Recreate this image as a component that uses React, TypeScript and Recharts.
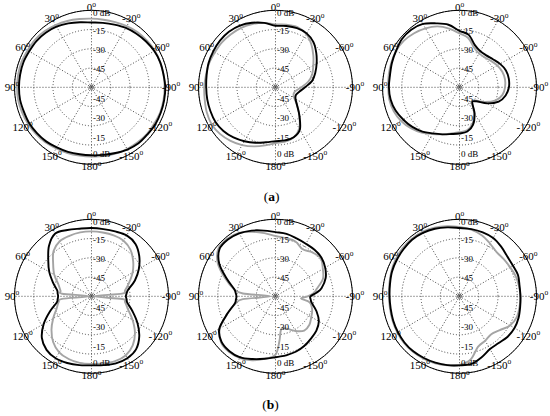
import React from "react";
import { RadarChart, Radar, PolarGrid, PolarAngleAxis, PolarRadiusAxis } from "recharts";

// sample angles in the figure's degrees: 0 = up, counter-clockwise, 190..350 stand for -170..-10
const ANG = [0, 10, 20, 30, 40, 50, 60, 70, 80, 90, 100, 110, 120, 130, 140, 150, 160, 170, 180, 190, 200, 210, 220, 230, 240, 250, 260, 270, 280, 290, 300, 310, 320, 330, 340, 350];
const ANG_B1 = [0, 10, 20, 30, 40, 50, 60, 70, 80, 85, 90, 95, 100, 110, 120, 130, 140, 150, 160, 170, 180, 190, 200, 210, 220, 230, 240, 250, 260, 265, 270, 275, 280, 290, 300, 310, 320, 330, 340, 350];
const ANG_B2 = [0, 10, 20, 30, 40, 50, 60, 70, 80, 85, 90, 95, 100, 110, 120, 130, 140, 150, 160, 170, 180, 185, 190, 200, 210, 220, 230, 240, 250, 260, 265, 270, 275, 280, 290, 300, 310, 320, 330, 340, 350];

// gain in dB, black = first curve, gray = second curve
const A1_BLACK = [-9.5, -8.5, -7, -5.5, -4.5, -4, -4, -3.5, -3.5, -3.5, -3.5, -4, -4, -4.5, -5, -6, -6.5, -7, -7, -6.5, -5.5, -4, -3, -3, -2.5, -2.5, -2.5, -2.5, -3, -3, -3.5, -4.5, -5.5, -6.5, -8, -9];
const A1_GRAY = [-6.5, -6, -5, -4, -3, -2.5, -2.5, -2, -2, -2, -2, -2.5, -3, -3.5, -4, -5, -5.5, -6, -6, -5.5, -5, -4.5, -4, -3.5, -3.5, -3, -3, -3, -3, -3, -3, -3.5, -4, -5, -6, -6.5];

const A2_BLACK = [-12, -9, -6.5, -4.5, -3.5, -3.5, -4, -4.5, -5.5, -6, -6, -6, -6, -7, -9, -11.5, -14, -16.5, -18, -18, -18.5, -22, -31, -38, -42, -43, -41, -37, -31, -27, -23, -18.5, -14, -11.5, -11, -11.5];
const A2_GRAY = [-11, -9, -7.5, -6.5, -6, -5.5, -5.5, -5, -5, -4.5, -4, -3, -2.5, -3.5, -5.5, -8, -11, -14, -16.5, -17, -18.5, -23, -31, -38, -43, -45, -44, -40, -34, -29.5, -26, -21.5, -16.5, -12, -10, -10.5];

const A3_BLACK = [-16, -10.5, -7, -3, -1.5, -1.5, -3, -4, -5, -5, -5.5, -7, -9.5, -12, -15, -18.5, -21, -23, -24, -25, -29, -36.5, -44.5, -43, -35, -27.5, -23.5, -21.5, -21, -21.5, -23.5, -26, -27.5, -27.5, -25, -18.5];
const A3_GRAY = [-18, -13.5, -9.5, -7, -5, -3.5, -3, -3.5, -4, -4.5, -4.5, -5.5, -7.5, -10.5, -14, -18, -21, -23.5, -25, -26, -30, -37, -45, -44, -37, -30, -26, -24.5, -24, -24.5, -26, -28, -29.5, -29.5, -27, -21];

const B1_BLACK = [-6.8, -6.5, -5, -3.5, -8.5, -16, -22, -28, -32.8, -33.5, -34, -33.5, -32.5, -25.5, -17, -9.5, -5.5, -4.2, -4.7, -5.5, -6.2, -5.5, -4.4, -4.2, -6, -11.4, -18.7, -26, -31.7, -32.5, -33.2, -32.5, -31, -24, -17.4, -11.4, -6.7, -5.2, -6.2, -6.8];
const B1_GRAY = [-9.4, -9.4, -9.8, -10.5, -14, -21, -26.5, -32.5, -35.5, -37, -58, -37, -34, -31, -25.5, -19.3, -13.5, -9.6, -8, -7.3, -7.3, -6.8, -6.2, -6.8, -10, -15.8, -23, -29.6, -33.4, -36, -58, -36, -33.4, -28.8, -23, -17.6, -12.7, -10, -9.5, -9.5];

const B2_BLACK = [-10, -8, -5.5, -3.4, -2.3, -3, -9.4, -19.5, -27.3, -28.8, -29.6, -29, -27.8, -20, -9.4, -5, -4.2, -5, -8, -10.6, -12.5, -13, -13.3, -14, -15.3, -17, -18.4, -21, -26, -31.4, -32.5, -32.7, -28, -23.6, -18.4, -15.3, -13.2, -12.7, -12.7, -12, -10.6];
const B2_GRAY = [-13, -10, -6.5, -3, -1.5, -2, -8, -18, -27, -34.5, -56, -34.5, -28.5, -20, -10, -4.5, -3.5, -4.5, -7, -10.5, -14.5, -25, -34, -33, -28.8, -25.2, -25.5, -27.8, -29.6, -33, -40, -35, -30, -27.5, -20.7, -17.4, -14, -15.3, -17.7, -14.5, -14];

const B3_BLACK = [-6.8, -5.5, -4, -3, -2.5, -3, -3.5, -4, -5, -5.5, -5.5, -5, -4.5, -4, -4, -4.5, -5, -5.5, -6.2, -6.5, -9.5, -12.5, -12.5, -11, -10.5, -11, -12, -12.5, -12.5, -11.5, -12, -11.5, -9.5, -7.5, -7, -6.8];
const B3_GRAY = [-6, -4.5, -3, -2, -1.8, -2, -2.5, -3.5, -4.5, -5, -5, -4.5, -4, -3.5, -3.5, -4, -4.5, -5.5, -6.5, -10, -18, -20, -21.5, -19, -14.5, -12.5, -12.5, -12.5, -13, -13.5, -14.5, -15, -15, -12.5, -9.4, -7.3];

const SPOKES = [0, 30, 60, 90, 120, 150, 180, 210, 240, 270, 300, 330];

const rows = (ang: number[], k: number[], g: number[]) => ang.map((a, i) => ({ a, k: k[i], g: g[i] }));

const CX = 91.5;
const CY = 87.3;
const R = 77;
const SERIF = "'Liberation Serif', 'Times New Roman', serif";

const PANELS = [
  { left: 0, top: 0, w: 184.2, data: rows(ANG, A1_BLACK, A1_GRAY) },
  { left: 184.2, top: 0, w: 183.3, data: rows(ANG, A2_BLACK, A2_GRAY) },
  { left: 367.5, top: 0, w: 182.5, data: rows(ANG, A3_BLACK, A3_GRAY) },
  { left: 0, top: 209.4, w: 184.2, data: rows(ANG_B1, B1_BLACK, B1_GRAY) },
  { left: 184.2, top: 209.4, w: 183.3, data: rows(ANG_B2, B2_BLACK, B2_GRAY) },
  { left: 367.5, top: 209.4, w: 182.5, data: rows(ANG, B3_BLACK, B3_GRAY) },
];

const AngleTick = (props: any) => {
  const { x, y, payload } = props;
  const v = payload.value > 180 ? payload.value - 360 : payload.value;
  return (
    <text x={x} y={y} dy="0.33em" textAnchor="middle" fontFamily={SERIF} fontSize={11} fill="#000">
      {v}
      <tspan dy={-4.5} fontSize={7.5}>o</tspan>
    </text>
  );
};

// labels sit on the upward radius axis; the lower copy is mirrored about the centre
const RingTick = (props: any) => {
  const { x, y, payload } = props;
  const v = payload.value;
  if (v <= -60) return <g />;
  const label = v === 0 ? "0 dB" : String(v);
  const r = CY - y;
  const inward = v === 0 ? 10 : 7.5;
  return (
    <g>
      <text x={x + 1.5} y={y + (v === 0 ? 2.4 : 1)} dy="0.35em" fontFamily={SERIF} fontSize={9} fill="#000">
        {label}
      </text>
      <text x={x + 1.5} y={CY + r - inward} dy="0.35em" fontFamily={SERIF} fontSize={9} fill="#000">
        {label}
      </text>
    </g>
  );
};

// closed Catmull-Rom through the points recharts computed
const SmoothLoop = (props: any) => {
  const pts = props.points || [];
  const n = pts.length;
  if (n < 3) return <g />;
  let d = `M${pts[0].x},${pts[0].y}`;
  for (let i = 0; i < n; i++) {
    const p0 = pts[(i - 1 + n) % n];
    const p1 = pts[i];
    const p2 = pts[(i + 1) % n];
    const p3 = pts[(i + 2) % n];
    const c1x = p1.x + (p2.x - p0.x) / 6;
    const c1y = p1.y + (p2.y - p0.y) / 6;
    const c2x = p2.x - (p3.x - p1.x) / 6;
    const c2y = p2.y - (p3.y - p1.y) / 6;
    d += ` C${c1x},${c1y} ${c2x},${c2y} ${p2.x},${p2.y}`;
  }
  return <path d={d + " Z"} fill="none" stroke={props.stroke} strokeWidth={props.strokeWidth} strokeLinejoin="round" />;
};

function Polar({ data, w }: { data: { a: number; k: number; g: number }[]; w: number }) {
  return (
    <RadarChart
      width={w}
      height={192}
      data={data}
      cx={CX}
      cy={CY}
      outerRadius={R}
      startAngle={90}
      endAngle={450}
      margin={{ top: 0, right: 0, bottom: 0, left: 0 }}
    >
      <PolarGrid gridType="circle" stroke="#444" strokeDasharray="1 2" />
      <PolarGrid gridType="circle" polarRadius={[2]} radialLines={false} stroke="#555" />
      <PolarAngleAxis
        dataKey="a"
        type="number"
        domain={[0, 360]}
        ticks={SPOKES}
        tick={AngleTick}
        tickLine={false}
        tickSize={2.5}
        axisLineType="circle"
        stroke="#000"
      />
      <PolarRadiusAxis
        angle={90}
        type="number"
        domain={[-60, 0]}
        tickCount={5}
        axisLine={false}
        tick={RingTick}
      />
      <Radar dataKey="g" stroke="#a4a4a4" strokeWidth={1.9} fill="none" dot={false} shape={SmoothLoop} isAnimationActive={false} />
      <Radar dataKey="k" stroke="#000" strokeWidth={1.9} fill="none" dot={false} shape={SmoothLoop} isAnimationActive={false} />
    </RadarChart>
  );
}

export default function App() {
  return (
    <div style={{ position: "absolute", left: 0, top: 0, width: 550, height: 416, background: "#fff", fontFamily: SERIF }}>
      {PANELS.map((p, i) => (
        <div key={i} style={{ position: "absolute", left: p.left, top: p.top, width: p.w, height: 192, overflow: "hidden" }}>
          <Polar data={p.data} w={p.w} />
        </div>
      ))}
      <div style={{ position: "absolute", left: 241.5, width: 60, top: 190, textAlign: "center", fontSize: 13.5, lineHeight: "14px" }}>
        (<b>a</b>)
      </div>
      <div style={{ position: "absolute", left: 240.5, width: 60, top: 397.5, textAlign: "center", fontSize: 13.5, lineHeight: "14px" }}>
        (<b>b</b>)
      </div>
    </div>
  );
}
